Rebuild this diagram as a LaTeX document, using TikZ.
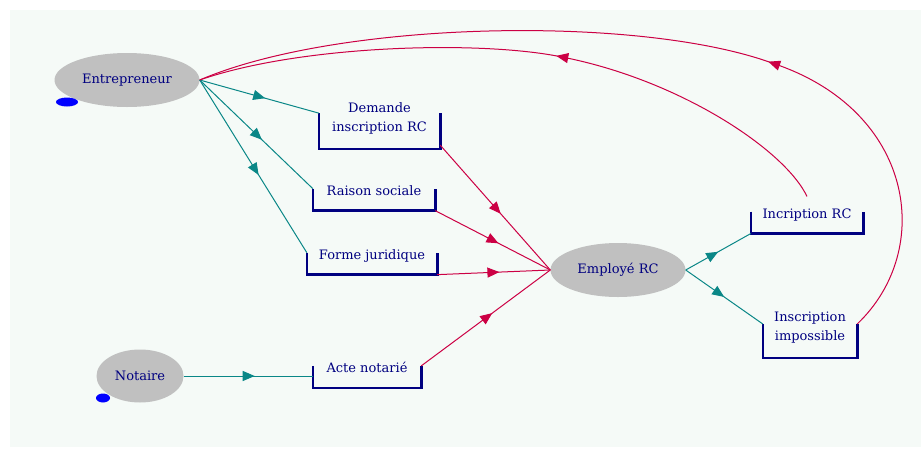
\documentclass[tikz,border=0pt]{standalone}
\usepackage{fontspec}
\setmainfont{DejaVu Serif}
\usetikzlibrary{arrows.meta, shapes.geometric, decorations.markings}

\definecolor{bgcol}{RGB}{245,250,247}
\definecolor{navy}{RGB}{0,0,128}
\definecolor{actorgray}{RGB}{192,192,192}
\definecolor{handleblue}{RGB}{0,0,255}
\definecolor{flowteal}{RGB}{10,135,135}
\definecolor{flowred}{RGB}{204,0,68}

\begin{document}
\begin{tikzpicture}[x=1pt, y=-1pt,
    every node/.style={font=\fontsize{13}{19}\selectfont, text=navy},
    actor/.style={ellipse, fill=actorgray, inner sep=0pt, minimum height=54pt},
    handle/.style={ellipse, fill=handleblue, inner sep=0pt, minimum height=9pt},
    form/.style={align=center, inner xsep=0pt, inner ysep=12pt, text depth=3pt},
    form2/.style={form, inner ysep=14.5pt},
    bracket/.style={draw=navy, line width=2.6pt},
    tealflow/.style={draw=flowteal, line width=1pt, postaction={decorate},
        decoration={markings, mark=at position #1 with {\arrow{Triangle[length=12pt, width=10pt]}}}},
    tealflow/.default=0.55,
    redflow/.style={draw=flowred, line width=1pt, postaction={decorate},
        decoration={markings, mark=at position #1 with {\arrow{Triangle[length=12pt, width=10pt]}}}},
    redflow/.default=0.55
]
\useasboundingbox (0,0) rectangle (923,450);
\fill[bgcol] (10,10) rectangle (921,447);

% acteurs
\node[actor, minimum width=145pt] (ent) at (127,80) {Entrepreneur};
\node[handle, minimum width=22pt] (entdot) at (67,102) {};
\node[actor, minimum width=87pt, minimum height=53pt] (not) at (140,376) {Notaire};
\node[handle, minimum width=14pt] (notdot) at (103,398) {};
\node[actor, minimum width=135pt] (emp) at (618,270) {Employé RC};

% documents
\node[form2, minimum width=121pt] (dem) at (379.5,118.5) {Demande\\inscription RC};
\node[form, minimum width=122pt] (raison) at (374,192) {Raison sociale};
\node[form, minimum width=130pt] (forme) at (372,256) {Forme juridique};
\node[form, minimum width=108pt] (acte) at (367,369) {Acte notarié};
\node[form, minimum width=112pt] (incrc) at (807,215) {Incription RC};
\node[form2, minimum width=94pt] (imp) at (810,327.5) {Inscription\\impossible};

\draw[bracket] ([yshift=36pt]dem.south west) coordinate (dem-in) |- (dem.south east) -- ++(0,-36);
\draw[bracket] ([yshift=22pt]raison.south west) coordinate (raison-in) |- (raison.south east) -- ++(0,-22);
\draw[bracket] ([yshift=22pt]forme.south west) coordinate (forme-in) |- (forme.south east) -- ++(0,-22);
\draw[bracket] ([yshift=22pt]acte.south west) |- (acte.south east) -- ++(0,-22) coordinate (acte-out);
\draw[bracket] ([yshift=22pt]incrc.south west) |- (incrc.south east) -- ++(0,-22);
\draw[bracket] ([yshift=34pt]imp.south west) coordinate (imp-in) |- (imp.south east) -- ++(0,-34) coordinate (imp-out);

% flux
\draw[tealflow] (ent.east) -- (dem-in);
\draw[tealflow] (ent.east) -- (raison-in);
\draw[tealflow] (ent.east) -- (forme-in);
\draw[tealflow] (not.east) -- (not.east -| acte.west);
\draw[redflow] ([yshift=4pt]dem.south east) -- (emp.west);
\draw[redflow] (raison.south east) -- (emp.west);
\draw[redflow] (forme.south east) -- (emp.west);
\draw[redflow] (acte-out) -- (emp.west);
\draw[tealflow=0.5] (emp.east) -- (incrc.south west);
\draw[tealflow=0.5] (emp.east) -- (imp-in);

% retours
\draw[redflow=0.45] (incrc.north) .. controls (785,150) and (680,80) .. (562,57)
    .. controls (480,40) and (300,45) .. (ent.east);
\draw[redflow=0.37] (imp-out) .. controls (935,250) and (915,110) .. (772,63)
    .. controls (640,15) and (340,20) .. (ent.east);

\end{tikzpicture}
\end{document}
